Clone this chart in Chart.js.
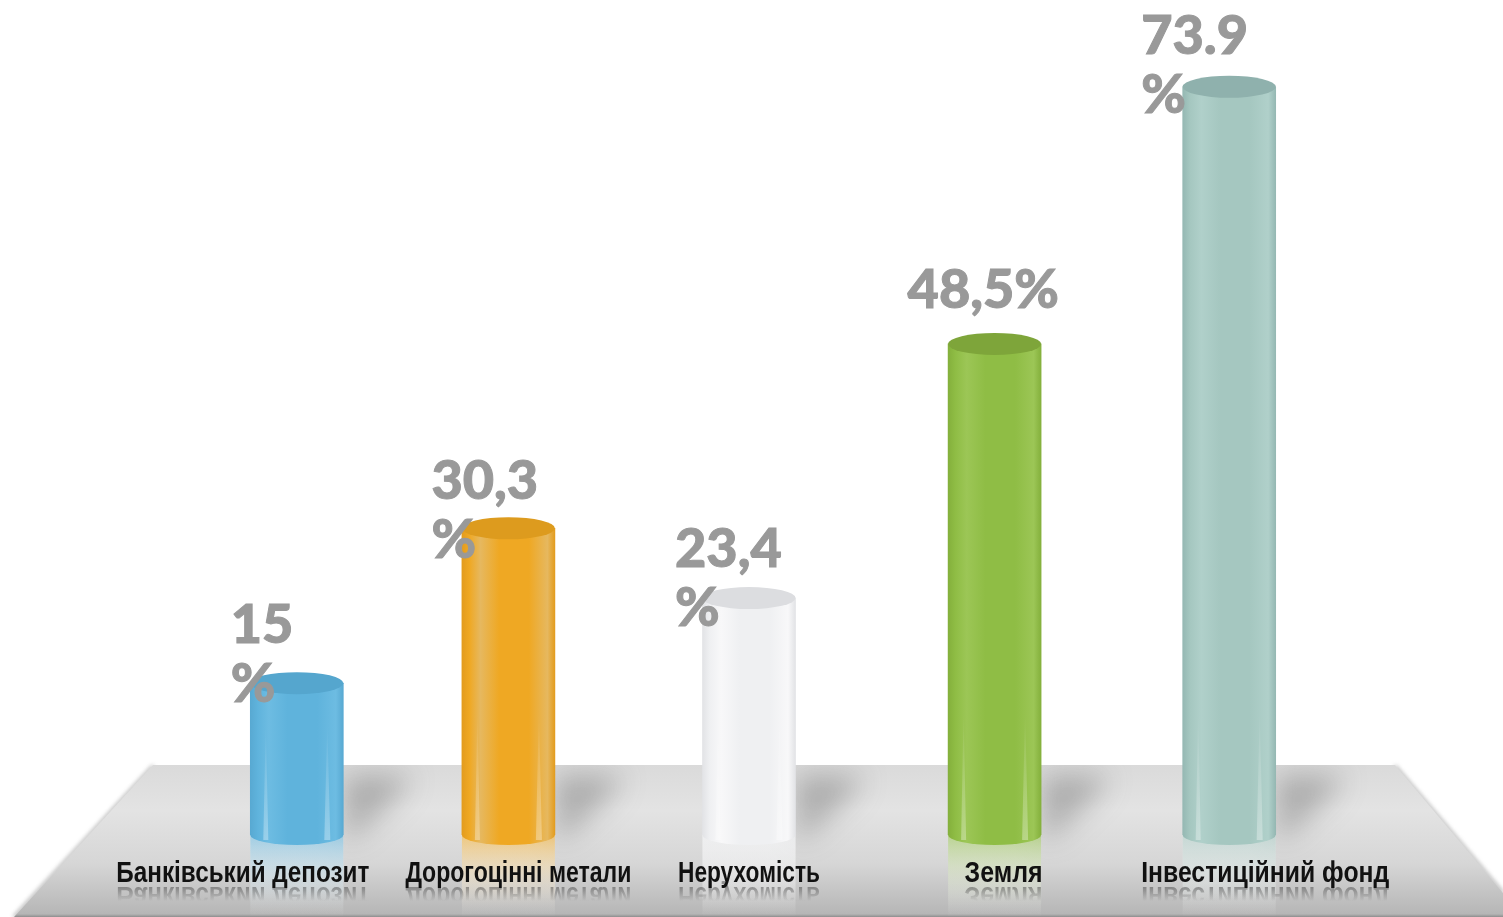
<!DOCTYPE html>
<html lang="uk">
<head>
<meta charset="utf-8">
<title>Chart</title>
<script src="https://cdn.jsdelivr.net/npm/chart.js@4"></script>
<style>
  html, body { margin: 0; padding: 0; background: #fff; }
  canvas { display: block; }
</style>
</head>
<body>
<canvas id="myChart" width="1503" height="917"></canvas>
<script>
const categories = ['Банківський депозит', 'Дорогоцінні метали', 'Нерухомість', 'Земля', 'Інвестиційний фонд'];
const values = [15, 30.3, 23.4, 48.5, 73.9];
const valueLabels = [['15', '%'], ['30,3', '%'], ['23,4', '%'], ['48,5%'], ['73.9', '%']];
const bodyColors = ['#5fb3dc', '#efa823', '#eff0f2', '#8fbd45', '#a5c7c0'];
const edgeColors = ['#58a9d2', '#e39c1e', '#e2e3e6', '#84b03c', '#95b8b3'];
const lightColors = ['#6dbce2', '#e6b85f', '#f8f8f9', '#9cc656', '#b0d0ca'];
const capColors = ['#55a6ce', '#dd9b1e', '#dcdde0', '#7ea53a', '#8fb1ad'];

// the picture does not space things evenly, so bars and labels get moved off the tick a bit
const barShift = [54, 10, -5, -15, -36];
const tickShift = [0, 20, -5, -6, 0];
const tickWidths = [253, 226, 142, 78, 248];
const labelDx = [-66, -77, -74, -87, -88];
const labelDy = [40, 29, 31, 36, 33];

const BAR_W = 93;
const CAP_RY = 11;
const BASE_RY = 10;
const TICK_SIZE = 29;
const tickFont = 'bold ' + TICK_SIZE + 'px "Liberation Sans"';

const bodyGradient = (ctx, left, right, i) => {
  const g = ctx.createLinearGradient(left, 0, right, 0);
  g.addColorStop(0, edgeColors[i]);
  g.addColorStop(0.08, bodyColors[i]);
  g.addColorStop(0.2, lightColors[i]);
  g.addColorStop(0.4, bodyColors[i]);
  g.addColorStop(0.72, bodyColors[i]);
  g.addColorStop(0.92, lightColors[i]);
  g.addColorStop(1, edgeColors[i]);
  return g;
};

const floorPath = (ctx) => {
  ctx.beginPath();
  ctx.moveTo(153, 765);
  ctx.lineTo(1395, 765);
  ctx.lineTo(1503, 893);
  ctx.lineTo(1503, 917);
  ctx.lineTo(14, 917);
  ctx.closePath();
};

const cylinderPlugin = {
  id: 'cylinder',
  afterDatasetsUpdate(chart) {
    chart.getDatasetMeta(0).data.forEach((bar, i) => { bar.x += barShift[i]; });
  },
  beforeDraw(chart) {
    const ctx = chart.ctx;
    const xAxis = chart.scales.x;
    const zero = chart.scales.y.getPixelForValue(0);
    const bars = chart.getDatasetMeta(0).data;

    // soft dark rim on the sloped sides of the floor
    ctx.save();
    ctx.filter = 'blur(2px)';
    ctx.strokeStyle = 'rgba(110,110,110,0.8)';
    ctx.lineWidth = 2;
    ctx.beginPath();
    ctx.moveTo(153, 766);
    ctx.lineTo(14, 917);
    ctx.moveTo(1395, 766);
    ctx.lineTo(1503, 893);
    ctx.stroke();
    ctx.restore();

    // floor
    ctx.save();
    floorPath(ctx);
    const floor = ctx.createLinearGradient(0, 765, 0, 917);
    floor.addColorStop(0, '#dadada');
    floor.addColorStop(0.3, '#e3e3e3');
    floor.addColorStop(0.65, '#d6d6d6');
    floor.addColorStop(0.98, '#b6b6b6');
    floor.addColorStop(1, '#8e8e8e');
    ctx.fillStyle = floor;
    ctx.fill();
    ctx.clip();

    // shadows fall to the right of each bar
    bars.forEach((bar) => {
      const right = bar.x + BAR_W / 2;
      ctx.save();
      ctx.filter = 'blur(14px)';
      ctx.fillStyle = 'rgba(70,70,70,0.34)';
      ctx.beginPath();
      ctx.moveTo(right, zero + 2);
      ctx.lineTo(right, 776);
      ctx.lineTo(right + 68, 776);
      ctx.lineTo(right + 56, 794);
      ctx.lineTo(right + 10, zero + 2);
      ctx.closePath();
      ctx.fill();
      ctx.restore();
    });

    // reflections of the bars in the floor
    bars.forEach((bar, i) => {
      const left = bar.x - BAR_W / 2;
      const g = ctx.createLinearGradient(0, zero, 0, 917);
      g.addColorStop(0, bodyColors[i]);
      g.addColorStop(1, 'rgba(255,255,255,0)');
      const w = ctx.createLinearGradient(0, zero, 0, 917);
      w.addColorStop(0, 'rgba(255,255,255,0.45)');
      w.addColorStop(1, 'rgba(255,255,255,0)');
      ctx.save();
      ctx.fillStyle = w;
      ctx.fillRect(left, zero, BAR_W, 917 - zero);
      ctx.globalAlpha = 0.55;
      ctx.fillStyle = g;
      ctx.fillRect(left, zero, BAR_W, 917 - zero);
      ctx.restore();
    });

    // tick labels get moved and squeezed here, their reflections are drawn with them
    const items = xAxis.getLabelItems(chart.chartArea);
    items.forEach((item, i) => {
      if (!item.shifted) {
        item.options.translation[0] += tickShift[i];
        item.options.maxWidth = tickWidths[i];
        item.shifted = true;
      }
      const x = item.options.translation[0];
      const base = 883;
      ctx.save();
      ctx.translate(x, base + 4);
      ctx.scale(1, -1);
      const fade = ctx.createLinearGradient(0, 0, 0, -14);
      fade.addColorStop(0, 'rgba(40,40,40,0.42)');
      fade.addColorStop(1, 'rgba(40,40,40,0)');
      ctx.font = tickFont;
      ctx.textAlign = 'center';
      ctx.textBaseline = 'alphabetic';
      ctx.fillStyle = fade;
      ctx.fillText(item.label, 0, 0, tickWidths[i]);
      ctx.restore();
    });
    ctx.restore();

    // base of each cylinder
    bars.forEach((bar, i) => {
      const left = bar.x - BAR_W / 2;
      ctx.fillStyle = bodyGradient(ctx, left, left + BAR_W, i);
      ctx.beginPath();
      ctx.ellipse(bar.x, zero, BAR_W / 2, BASE_RY, 0, 0, Math.PI * 2);
      ctx.fill();
    });
  },
  afterDatasetsDraw(chart) {
    const ctx = chart.ctx;
    const zero = chart.scales.y.getPixelForValue(0);
    chart.getDatasetMeta(0).data.forEach((bar, i) => {
      const left = bar.x - BAR_W / 2;
      const right = bar.x + BAR_W / 2;
      const bottom = zero + 5;

      // thin glints on the lower part of the body
      const glintTop = Math.max(bar.y + 40, zero - 125);
      [[left + 13, 5], [right - 19, 6]].forEach(([gx, gw]) => {
        const g = ctx.createLinearGradient(0, glintTop, 0, bottom);
        g.addColorStop(0, 'rgba(255,255,255,0)');
        g.addColorStop(1, 'rgba(255,255,255,0.32)');
        ctx.fillStyle = g;
        ctx.beginPath();
        ctx.moveTo(gx + gw / 2, glintTop);
        ctx.lineTo(gx + gw, bottom);
        ctx.lineTo(gx, bottom);
        ctx.closePath();
        ctx.fill();
      });

      // top of the cylinder
      ctx.fillStyle = capColors[i];
      ctx.beginPath();
      ctx.ellipse(bar.x, bar.y, BAR_W / 2, CAP_RY, 0, 0, Math.PI * 2);
      ctx.fill();

      // value label
      ctx.font = '900 54px Lato';
      ctx.textAlign = 'left';
      ctx.textBaseline = 'alphabetic';
      ctx.fillStyle = '#999999';
      ctx.strokeStyle = '#999999';
      ctx.lineWidth = 1;
      valueLabels[i].forEach((line, n) => {
        const tx = bar.x + labelDx[i];
        const ty = bar.y - labelDy[i] + n * 59;
        ctx.fillText(line, tx, ty);
        ctx.strokeText(line, tx, ty);
      });
    });
  }
};

const chart = new Chart(document.getElementById('myChart').getContext('2d'), {
  type: 'bar',
  data: {
    labels: categories,
    datasets: [{
      data: values,
      barThickness: BAR_W,
      borderWidth: 0,
      backgroundColor: (context) => {
        const i = context.dataIndex;
        if (i === undefined || !context.chart.chartArea) return bodyColors[0];
        const x = context.chart.scales.x.getPixelForValue(i) + barShift[i];
        return bodyGradient(context.chart.ctx, x - BAR_W / 2, x + BAR_W / 2, i);
      }
    }]
  },
  options: {
    responsive: false,
    animation: false,
    devicePixelRatio: 1,
    layout: { padding: { left: 115, right: 110, top: 25, bottom: 0 } },
    plugins: {
      legend: { display: false },
      tooltip: { enabled: false }
    },
    scales: {
      x: {
        grid: { display: false, drawTicks: false },
        border: { display: false },
        afterFit: (scale) => { scale.height = 82; },
        ticks: {
          z: 1,
          padding: 22,
          color: '#111111',
          autoSkip: false,
          maxRotation: 0,
          font: { family: '"Liberation Sans"', size: TICK_SIZE, weight: 'bold' }
        }
      },
      y: {
        display: false,
        min: 0,
        max: 80
      }
    }
  },
  plugins: [cylinderPlugin]
});
</script>
</body>
</html>
